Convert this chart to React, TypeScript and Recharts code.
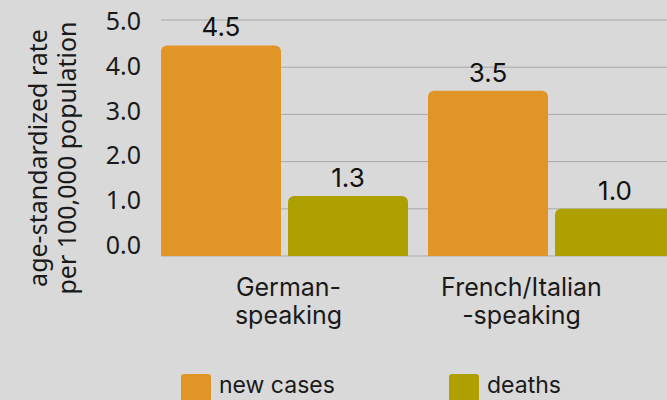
import React from "react";
import { BarChart, Bar, XAxis, YAxis, CartesianGrid, Legend, LabelList } from "recharts";

const CATEGORIES = ["German-speaking", "French/Italian-speaking"];
const TICK_LINES = [
  ["German-", "speaking"],
  ["French/Italian", "-speaking"],
];
const NEW_CASES = [4.46, 3.5];
const DEATHS = [1.27, 1.0];
const SERIES_NAMES = ["new cases", "deaths"];
const Y_TICKS = [0, 1, 2, 3, 4, 5];
const Y_TITLE = ["age-standardized rate", "per 100,000 population"];

const COLORS = ["#e19526", "#ada000"];
const TICK_DX = [4, -30];
const LABEL_FONT = "Inter, 'Noto Sans', sans-serif";
const AXIS_FONT = "'Noto Sans', 'Open Sans', sans-serif";

const data = CATEGORIES.map((c, i) => ({
  category: c,
  newCases: NEW_CASES[i],
  deaths: DEATHS[i],
}));

const XTick = (props: any) => {
  const { x, y, index } = props;
  const lines = TICK_LINES[index] || [];
  const cx = x + (TICK_DX[index] || 0);
  return (
    <text x={cx} y={y} textAnchor="middle" fill="#1a1a1a" fontSize={25} fontFamily={LABEL_FONT}>
      {lines.map((l, i) => (
        <tspan key={i} x={cx} dy={i === 0 ? 32 : 28}>
          {l}
        </tspan>
      ))}
    </text>
  );
};

// tick labels in the reference are spaced slightly tighter than the gridlines
const YTick = (props: any) => {
  const { x, y, payload } = props;
  const shift = 1 - (5 - payload.value) * 2.4;
  return (
    <text
      x={x}
      y={y + shift}
      dy="0.36em"
      textAnchor="end"
      fill="#1a1a1a"
      fontSize={25}
      fontFamily={AXIS_FONT}
    >
      {Number(payload.value).toFixed(1)}
    </text>
  );
};

const YTitle = () => (
  <g>
    {Y_TITLE.map((t, i) => (
      <text
        key={i}
        x={0}
        y={0}
        transform={`translate(${47 + i * 29}, 158) rotate(-90)`}
        textAnchor="middle"
        fill="#1a1a1a"
        fontSize={25}
        fontFamily={AXIS_FONT}
      >
        {t}
      </text>
    ))}
  </g>
);

const LegendContent = (props: any) => {
  const { payload } = props;
  const items = [...(payload || [])].sort(
    (a: any, b: any) => SERIES_NAMES.indexOf(a.value) - SERIES_NAMES.indexOf(b.value)
  );
  return (
    <div style={{ display: "flex", fontFamily: LABEL_FONT }}>
      {items.map((p: any, i: number) => (
        <div key={i} style={{ width: 268, display: "flex", alignItems: "flex-start" }}>
          <div
            style={{
              width: 30,
              height: 30,
              borderRadius: 3,
              background: p.color,
              marginRight: 8,
              flex: "none",
            }}
          />
          <span style={{ fontSize: 23, color: "#1a1a1a", lineHeight: "24px", marginTop: -1 }}>{p.value}</span>
        </div>
      ))}
    </div>
  );
};

const gridLine = (p: any) => (
  <line
    key={`h-${p.y1}`}
    x1={p.x1 + 10}
    y1={p.y1}
    x2={p.x2}
    y2={p.y2}
    stroke="#a9a9a9"
    strokeWidth={1}
  />
);

export default function App() {
  return (
    <div
      style={{
        position: "fixed",
        left: 0,
        top: 0,
        width: 667,
        height: 400,
        overflow: "hidden",
        background: "#d9d9d9",
      }}
    >
      <BarChart
        width={720}
        height={400}
        data={data}
        margin={{ top: 20, right: 35, left: 0, bottom: 0 }}
        barGap={7}
        barSize={120}
      >
        <CartesianGrid vertical={false} horizontal={gridLine} />
        <XAxis
          dataKey="category"
          height={144}
          axisLine={false}
          tickLine={false}
          interval={0}
          tick={<XTick />}
        />
        <YAxis
          width={151}
          domain={[0, 5]}
          ticks={Y_TICKS}
          axisLine={false}
          tickLine={false}
          tickMargin={4}
          tick={<YTick />}
          label={<YTitle />}
        />
        <Legend
          verticalAlign="middle"
          align="center"
          content={<LegendContent />}
          wrapperStyle={{ left: 181, top: 374, width: 600 }}
        />
        <Bar dataKey="newCases" name={SERIES_NAMES[0]} fill={COLORS[0]} radius={[6, 6, 0, 0]} isAnimationActive={false}>
          <LabelList
            dataKey="newCases"
            position="top"
            offset={9}
            fill="#111"
            fontSize={26}
            fontFamily={LABEL_FONT}
            formatter={(v: any) => Number(v).toFixed(1)}
          />
        </Bar>
        <Bar dataKey="deaths" name={SERIES_NAMES[1]} fill={COLORS[1]} radius={[6, 6, 0, 0]} isAnimationActive={false}>
          <LabelList
            dataKey="deaths"
            position="top"
            offset={9}
            fill="#111"
            fontSize={26}
            fontFamily={LABEL_FONT}
            formatter={(v: any) => Number(v).toFixed(1)}
          />
        </Bar>
      </BarChart>
    </div>
  );
}
